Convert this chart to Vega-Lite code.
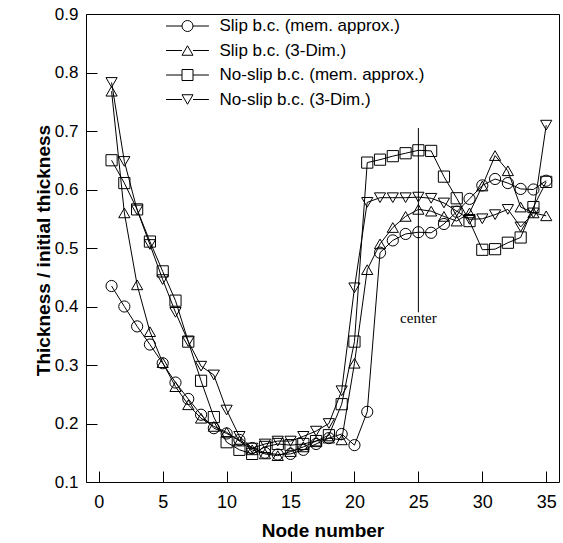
{
  "$schema": "https://vega.github.io/schema/vega-lite/v6.json",
  "width": 473,
  "height": 468,
  "autosize": {"type": "none"},
  "padding": {"left": 86, "top": 14, "right": 4, "bottom": 61},
  "background": "white",
  "config": {
    "view": {"stroke": "black", "strokeWidth": 1},
    "font": "Liberation Sans",
    "axis": {"domain": false, "grid": false, "labelColor": "black", "tickColor": "black", "titleColor": "black", "labelFont": "Liberation Sans", "titleFont": "Liberation Sans", "labelFontSize": 18, "titleFontSize": 19, "titleFontWeight": "bold", "tickSize": -11, "tickWidth": 1, "labelOverlap": false}
  },
  "datasets": {
    "main": [
      {"node": 1, "series": "Slip b.c. (mem. approx.)", "curve": "Slip b.c. (mem. approx.)", "value": 0.435},
      {"node": 2, "series": "Slip b.c. (mem. approx.)", "curve": "Slip b.c. (mem. approx.)", "value": 0.400},
      {"node": 3, "series": "Slip b.c. (mem. approx.)", "curve": "Slip b.c. (mem. approx.)", "value": 0.366},
      {"node": 4, "series": "Slip b.c. (mem. approx.)", "curve": "Slip b.c. (mem. approx.)", "value": 0.335},
      {"node": 5, "series": "Slip b.c. (mem. approx.)", "curve": "Slip b.c. (mem. approx.)", "value": 0.303},
      {"node": 6, "series": "Slip b.c. (mem. approx.)", "curve": "Slip b.c. (mem. approx.)", "value": 0.270},
      {"node": 7, "series": "Slip b.c. (mem. approx.)", "curve": "Slip b.c. (mem. approx.)", "value": 0.242},
      {"node": 8, "series": "Slip b.c. (mem. approx.)", "curve": "Slip b.c. (mem. approx.)", "value": 0.215},
      {"node": 9, "series": "Slip b.c. (mem. approx.)", "curve": "Slip b.c. (mem. approx.)", "value": 0.192},
      {"node": 10, "series": "Slip b.c. (mem. approx.)", "curve": "Slip b.c. (mem. approx.)", "value": 0.183},
      {"node": 11, "series": "Slip b.c. (mem. approx.)", "curve": "Slip b.c. (mem. approx.)", "value": 0.172},
      {"node": 12, "series": "Slip b.c. (mem. approx.)", "curve": "Slip b.c. (mem. approx.)", "value": 0.158},
      {"node": 13, "series": "Slip b.c. (mem. approx.)", "curve": "Slip b.c. (mem. approx.)", "value": 0.150},
      {"node": 14, "series": "Slip b.c. (mem. approx.)", "curve": "Slip b.c. (mem. approx.)", "value": 0.147},
      {"node": 15, "series": "Slip b.c. (mem. approx.)", "curve": "Slip b.c. (mem. approx.)", "value": 0.148},
      {"node": 16, "series": "Slip b.c. (mem. approx.)", "curve": "Slip b.c. (mem. approx.)", "value": 0.155},
      {"node": 17, "series": "Slip b.c. (mem. approx.)", "curve": "Slip b.c. (mem. approx.)", "value": 0.165},
      {"node": 18, "series": "Slip b.c. (mem. approx.)", "curve": "Slip b.c. (mem. approx.)", "value": 0.175},
      {"node": 19, "series": "Slip b.c. (mem. approx.)", "curve": "Slip b.c. (mem. approx.)", "value": 0.182},
      {"node": 20, "series": "Slip b.c. (mem. approx.)", "curve": "Slip b.c. (mem. approx.)", "value": 0.163},
      {"node": 21, "series": "Slip b.c. (mem. approx.)", "curve": "Slip b.c. (mem. approx.)", "value": 0.220},
      {"node": 22, "series": "Slip b.c. (mem. approx.)", "curve": "Slip b.c. (mem. approx.)", "value": 0.492},
      {"node": 23, "series": "Slip b.c. (mem. approx.)", "curve": "Slip b.c. (mem. approx.)", "value": 0.513},
      {"node": 24, "series": "Slip b.c. (mem. approx.)", "curve": "Slip b.c. (mem. approx.)", "value": 0.524},
      {"node": 25, "series": "Slip b.c. (mem. approx.)", "curve": "Slip b.c. (mem. approx.)", "value": 0.527},
      {"node": 26, "series": "Slip b.c. (mem. approx.)", "curve": "Slip b.c. (mem. approx.)", "value": 0.526},
      {"node": 27, "series": "Slip b.c. (mem. approx.)", "curve": "Slip b.c. (mem. approx.)", "value": 0.541},
      {"node": 28, "series": "Slip b.c. (mem. approx.)", "curve": "Slip b.c. (mem. approx.)", "value": 0.562},
      {"node": 29, "series": "Slip b.c. (mem. approx.)", "curve": "Slip b.c. (mem. approx.)", "value": 0.584},
      {"node": 30, "series": "Slip b.c. (mem. approx.)", "curve": "Slip b.c. (mem. approx.)", "value": 0.607},
      {"node": 31, "series": "Slip b.c. (mem. approx.)", "curve": "Slip b.c. (mem. approx.)", "value": 0.618},
      {"node": 32, "series": "Slip b.c. (mem. approx.)", "curve": "Slip b.c. (mem. approx.)", "value": 0.611},
      {"node": 33, "series": "Slip b.c. (mem. approx.)", "curve": "Slip b.c. (mem. approx.)", "value": 0.601},
      {"node": 34, "series": "Slip b.c. (mem. approx.)", "curve": "Slip b.c. (mem. approx.)", "value": 0.600},
      {"node": 35, "series": "Slip b.c. (mem. approx.)", "curve": "Slip b.c. (mem. approx.)", "value": 0.615},
      {"node": 1, "series": "Slip b.c. (3-Dim.)", "curve": "Slip b.c. (3-Dim.)", "value": 0.768},
      {"node": 2, "series": "Slip b.c. (3-Dim.)", "curve": "Slip b.c. (3-Dim.)", "value": 0.560},
      {"node": 3, "series": "Slip b.c. (3-Dim.)", "curve": "Slip b.c. (3-Dim.)", "value": 0.437},
      {"node": 4, "series": "Slip b.c. (3-Dim.)", "curve": "Slip b.c. (3-Dim.)", "value": 0.357},
      {"node": 5, "series": "Slip b.c. (3-Dim.)", "curve": "Slip b.c. (3-Dim.)", "value": 0.304},
      {"node": 6, "series": "Slip b.c. (3-Dim.)", "curve": "Slip b.c. (3-Dim.)", "value": 0.263},
      {"node": 7, "series": "Slip b.c. (3-Dim.)", "curve": "Slip b.c. (3-Dim.)", "value": 0.232},
      {"node": 8, "series": "Slip b.c. (3-Dim.)", "curve": "Slip b.c. (3-Dim.)", "value": 0.209},
      {"node": 9, "series": "Slip b.c. (3-Dim.)", "curve": "Slip b.c. (3-Dim.)", "value": 0.195},
      {"node": 10, "series": "Slip b.c. (3-Dim.)", "curve": "Slip b.c. (3-Dim.)", "value": 0.185},
      {"node": 11, "series": "Slip b.c. (3-Dim.)", "curve": "Slip b.c. (3-Dim.)", "value": 0.170},
      {"node": 12, "series": "Slip b.c. (3-Dim.)", "curve": "Slip b.c. (3-Dim.)", "value": 0.155},
      {"node": 13, "series": "Slip b.c. (3-Dim.)", "curve": "Slip b.c. (3-Dim.)", "value": 0.148},
      {"node": 14, "series": "Slip b.c. (3-Dim.)", "curve": "Slip b.c. (3-Dim.)", "value": 0.145},
      {"node": 15, "series": "Slip b.c. (3-Dim.)", "curve": "Slip b.c. (3-Dim.)", "value": 0.152},
      {"node": 16, "series": "Slip b.c. (3-Dim.)", "curve": "Slip b.c. (3-Dim.)", "value": 0.160},
      {"node": 17, "series": "Slip b.c. (3-Dim.)", "curve": "Slip b.c. (3-Dim.)", "value": 0.170},
      {"node": 18, "series": "Slip b.c. (3-Dim.)", "curve": "Slip b.c. (3-Dim.)", "value": 0.175},
      {"node": 19, "series": "Slip b.c. (3-Dim.)", "curve": "Slip b.c. (3-Dim.)", "value": 0.172},
      {"node": 20, "series": "Slip b.c. (3-Dim.)", "curve": "Slip b.c. (3-Dim.)", "value": 0.303},
      {"node": 21, "series": "Slip b.c. (3-Dim.)", "curve": "Slip b.c. (3-Dim.)", "value": 0.463},
      {"node": 22, "series": "Slip b.c. (3-Dim.)", "curve": "Slip b.c. (3-Dim.)", "value": 0.507},
      {"node": 23, "series": "Slip b.c. (3-Dim.)", "curve": "Slip b.c. (3-Dim.)", "value": 0.535},
      {"node": 24, "series": "Slip b.c. (3-Dim.)", "curve": "Slip b.c. (3-Dim.)", "value": 0.554},
      {"node": 25, "series": "Slip b.c. (3-Dim.)", "curve": "Slip b.c. (3-Dim.)", "value": 0.566},
      {"node": 26, "series": "Slip b.c. (3-Dim.)", "curve": "Slip b.c. (3-Dim.)", "value": 0.563},
      {"node": 27, "series": "Slip b.c. (3-Dim.)", "curve": "Slip b.c. (3-Dim.)", "value": 0.554},
      {"node": 28, "series": "Slip b.c. (3-Dim.)", "curve": "Slip b.c. (3-Dim.)", "value": 0.546},
      {"node": 29, "series": "Slip b.c. (3-Dim.)", "curve": "Slip b.c. (3-Dim.)", "value": 0.560},
      {"node": 30, "series": "Slip b.c. (3-Dim.)", "curve": "Slip b.c. (3-Dim.)", "value": 0.606},
      {"node": 31, "series": "Slip b.c. (3-Dim.)", "curve": "Slip b.c. (3-Dim.)", "value": 0.658},
      {"node": 32, "series": "Slip b.c. (3-Dim.)", "curve": "Slip b.c. (3-Dim.)", "value": 0.632},
      {"node": 33, "series": "Slip b.c. (3-Dim.)", "curve": "Slip b.c. (3-Dim.)", "value": 0.570},
      {"node": 34, "series": "Slip b.c. (3-Dim.)", "curve": "Slip b.c. (3-Dim.)", "value": 0.560},
      {"node": 35, "series": "Slip b.c. (3-Dim.)", "curve": "Slip b.c. (3-Dim.)", "value": 0.555},
      {"node": 1, "series": "No-slip b.c. (mem. approx.)", "curve": "No-slip b.c. (mem. approx.)", "value": 0.650},
      {"node": 2, "series": "No-slip b.c. (mem. approx.)", "curve": "No-slip b.c. (mem. approx.)", "value": 0.611},
      {"node": 3, "series": "No-slip b.c. (mem. approx.)", "curve": "No-slip b.c. (mem. approx.)", "value": 0.566},
      {"node": 4, "series": "No-slip b.c. (mem. approx.)", "curve": "No-slip b.c. (mem. approx.)", "value": 0.511},
      {"node": 5, "series": "No-slip b.c. (mem. approx.)", "curve": "No-slip b.c. (mem. approx.)", "value": 0.460},
      {"node": 6, "series": "No-slip b.c. (mem. approx.)", "curve": "No-slip b.c. (mem. approx.)", "value": 0.410},
      {"node": 7, "series": "No-slip b.c. (mem. approx.)", "curve": "No-slip b.c. (mem. approx.)", "value": 0.340},
      {"node": 8, "series": "No-slip b.c. (mem. approx.)", "curve": "No-slip b.c. (mem. approx.)", "value": 0.273},
      {"node": 9, "series": "No-slip b.c. (mem. approx.)", "curve": "No-slip b.c. (mem. approx.)", "value": 0.211},
      {"node": 10, "series": "No-slip b.c. (mem. approx.)", "curve": "No-slip b.c. (mem. approx.)", "value": 0.168},
      {"node": 11, "series": "No-slip b.c. (mem. approx.)", "curve": "No-slip b.c. (mem. approx.)", "value": 0.155},
      {"node": 12, "series": "No-slip b.c. (mem. approx.)", "curve": "No-slip b.c. (mem. approx.)", "value": 0.148},
      {"node": 13, "series": "No-slip b.c. (mem. approx.)", "curve": "No-slip b.c. (mem. approx.)", "value": 0.160},
      {"node": 14, "series": "No-slip b.c. (mem. approx.)", "curve": "No-slip b.c. (mem. approx.)", "value": 0.165},
      {"node": 15, "series": "No-slip b.c. (mem. approx.)", "curve": "No-slip b.c. (mem. approx.)", "value": 0.163},
      {"node": 16, "series": "No-slip b.c. (mem. approx.)", "curve": "No-slip b.c. (mem. approx.)", "value": 0.165},
      {"node": 17, "series": "No-slip b.c. (mem. approx.)", "curve": "No-slip b.c. (mem. approx.)", "value": 0.170},
      {"node": 18, "series": "No-slip b.c. (mem. approx.)", "curve": "No-slip b.c. (mem. approx.)", "value": 0.180},
      {"node": 19, "series": "No-slip b.c. (mem. approx.)", "curve": "No-slip b.c. (mem. approx.)", "value": 0.233},
      {"node": 20, "series": "No-slip b.c. (mem. approx.)", "curve": "No-slip b.c. (mem. approx.)", "value": 0.340},
      {"node": 21, "series": "No-slip b.c. (mem. approx.)", "curve": "No-slip b.c. (mem. approx.)", "value": 0.646},
      {"node": 22, "series": "No-slip b.c. (mem. approx.)", "curve": "No-slip b.c. (mem. approx.)", "value": 0.651},
      {"node": 23, "series": "No-slip b.c. (mem. approx.)", "curve": "No-slip b.c. (mem. approx.)", "value": 0.657},
      {"node": 24, "series": "No-slip b.c. (mem. approx.)", "curve": "No-slip b.c. (mem. approx.)", "value": 0.662},
      {"node": 25, "series": "No-slip b.c. (mem. approx.)", "curve": "No-slip b.c. (mem. approx.)", "value": 0.667},
      {"node": 26, "series": "No-slip b.c. (mem. approx.)", "curve": "No-slip b.c. (mem. approx.)", "value": 0.666},
      {"node": 27, "series": "No-slip b.c. (mem. approx.)", "curve": "No-slip b.c. (mem. approx.)", "value": 0.622},
      {"node": 28, "series": "No-slip b.c. (mem. approx.)", "curve": "No-slip b.c. (mem. approx.)", "value": 0.585},
      {"node": 29, "series": "No-slip b.c. (mem. approx.)", "curve": "No-slip b.c. (mem. approx.)", "value": 0.546},
      {"node": 30, "series": "No-slip b.c. (mem. approx.)", "curve": "No-slip b.c. (mem. approx.)", "value": 0.497},
      {"node": 31, "series": "No-slip b.c. (mem. approx.)", "curve": "No-slip b.c. (mem. approx.)", "value": 0.498},
      {"node": 32, "series": "No-slip b.c. (mem. approx.)", "curve": "No-slip b.c. (mem. approx.)", "value": 0.509},
      {"node": 33, "series": "No-slip b.c. (mem. approx.)", "curve": "No-slip b.c. (mem. approx.)", "value": 0.518},
      {"node": 34, "series": "No-slip b.c. (mem. approx.)", "curve": "No-slip b.c. (mem. approx.)", "value": 0.570},
      {"node": 35, "series": "No-slip b.c. (mem. approx.)", "curve": "No-slip b.c. (mem. approx.)", "value": 0.613},
      {"node": 1, "series": "No-slip b.c. (3-Dim.)", "curve": "No-slip b.c. (3-Dim.)", "value": 0.783},
      {"node": 2, "series": "No-slip b.c. (3-Dim.)", "curve": "No-slip b.c. (3-Dim.)", "value": 0.648},
      {"node": 3, "series": "No-slip b.c. (3-Dim.)", "curve": "No-slip b.c. (3-Dim.)", "value": 0.565},
      {"node": 4, "series": "No-slip b.c. (3-Dim.)", "curve": "No-slip b.c. (3-Dim.)", "value": 0.506},
      {"node": 5, "series": "No-slip b.c. (3-Dim.)", "curve": "No-slip b.c. (3-Dim.)", "value": 0.446},
      {"node": 6, "series": "No-slip b.c. (3-Dim.)", "curve": "No-slip b.c. (3-Dim.)", "value": 0.390},
      {"node": 7, "series": "No-slip b.c. (3-Dim.)", "curve": "No-slip b.c. (3-Dim.)", "value": 0.340},
      {"node": 8, "series": "No-slip b.c. (3-Dim.)", "curve": "No-slip b.c. (3-Dim.)", "value": 0.298},
      {"node": 9, "series": "No-slip b.c. (3-Dim.)", "curve": "No-slip b.c. (3-Dim.)", "value": 0.283},
      {"node": 10, "series": "No-slip b.c. (3-Dim.)", "curve": "No-slip b.c. (3-Dim.)", "value": 0.223},
      {"node": 11, "series": "No-slip b.c. (3-Dim.)", "curve": "No-slip b.c. (3-Dim.)", "value": 0.178},
      {"node": 12, "series": "No-slip b.c. (3-Dim.)", "curve": "No-slip b.c. (3-Dim.)", "value": 0.158},
      {"node": 13, "series": "No-slip b.c. (3-Dim.)", "curve": "No-slip b.c. (3-Dim.)", "value": 0.165},
      {"node": 14, "series": "No-slip b.c. (3-Dim.)", "curve": "No-slip b.c. (3-Dim.)", "value": 0.170},
      {"node": 15, "series": "No-slip b.c. (3-Dim.)", "curve": "No-slip b.c. (3-Dim.)", "value": 0.170},
      {"node": 16, "series": "No-slip b.c. (3-Dim.)", "curve": "No-slip b.c. (3-Dim.)", "value": 0.178},
      {"node": 17, "series": "No-slip b.c. (3-Dim.)", "curve": "No-slip b.c. (3-Dim.)", "value": 0.187},
      {"node": 18, "series": "No-slip b.c. (3-Dim.)", "curve": "No-slip b.c. (3-Dim.)", "value": 0.200},
      {"node": 19, "series": "No-slip b.c. (3-Dim.)", "curve": "No-slip b.c. (3-Dim.)", "value": 0.256},
      {"node": 20, "series": "No-slip b.c. (3-Dim.)", "curve": "No-slip b.c. (3-Dim.)", "value": 0.432},
      {"node": 21, "series": "No-slip b.c. (3-Dim.)", "curve": "No-slip b.c. (3-Dim.)", "value": 0.578},
      {"node": 22, "series": "No-slip b.c. (3-Dim.)", "curve": "No-slip b.c. (3-Dim.)", "value": 0.586},
      {"node": 23, "series": "No-slip b.c. (3-Dim.)", "curve": "No-slip b.c. (3-Dim.)", "value": 0.586},
      {"node": 24, "series": "No-slip b.c. (3-Dim.)", "curve": "No-slip b.c. (3-Dim.)", "value": 0.586},
      {"node": 25, "series": "No-slip b.c. (3-Dim.)", "curve": "No-slip b.c. (3-Dim.)", "value": 0.587},
      {"node": 26, "series": "No-slip b.c. (3-Dim.)", "curve": "No-slip b.c. (3-Dim.)", "value": 0.585},
      {"node": 27, "series": "No-slip b.c. (3-Dim.)", "curve": "No-slip b.c. (3-Dim.)", "value": 0.577},
      {"node": 28, "series": "No-slip b.c. (3-Dim.)", "curve": "No-slip b.c. (3-Dim.)", "value": 0.563},
      {"node": 29, "series": "No-slip b.c. (3-Dim.)", "curve": "No-slip b.c. (3-Dim.)", "value": 0.549},
      {"node": 30, "series": "No-slip b.c. (3-Dim.)", "curve": "No-slip b.c. (3-Dim.)", "value": 0.550},
      {"node": 31, "series": "No-slip b.c. (3-Dim.)", "curve": "No-slip b.c. (3-Dim.)", "value": 0.557},
      {"node": 32, "series": "No-slip b.c. (3-Dim.)", "curve": "No-slip b.c. (3-Dim.)", "value": 0.566},
      {"node": 33, "series": "No-slip b.c. (3-Dim.)", "curve": "No-slip b.c. (3-Dim.)", "value": 0.536},
      {"node": 34, "series": "No-slip b.c. (3-Dim.)", "curve": "No-slip b.c. (3-Dim.)", "value": 0.560},
      {"node": 35, "series": "No-slip b.c. (3-Dim.)", "curve": "No-slip b.c. (3-Dim.)", "value": 0.710}
    ],
    "ann": [{"node": 25, "top": 0.705, "bottom": 0.39, "ty": 0.381, "label": "center"}]
  },
  "layer": [
    {
      "data": {"name": "main"},
      "mark": {"type": "line", "strokeWidth": 1},
      "encoding": {
        "x": {"field": "node", "type": "quantitative", "scale": {"domain": [-1, 36], "nice": false, "zero": false},
          "axis": {"values": [0, 5, 10, 15, 20, 25, 30, 35], "format": "d", "title": "Node number", "labelPadding": 22, "titleBaseline": "alphabetic", "titleY": 54}},
        "y": {"field": "value", "type": "quantitative", "scale": {"domain": [0.1, 0.9], "nice": false, "zero": false},
          "axis": {"values": [0.1, 0.2, 0.3, 0.4, 0.5, 0.6, 0.7, 0.8, 0.9], "format": ".1f", "title": "Thickness / initial thickness", "labelPadding": 19, "labelFontSize": 17, "titleBaseline": "alphabetic", "titleX": -37, "titleY": 236}},
        "color": {"field": "curve", "type": "nominal",
          "sort": ["Slip b.c. (mem. approx.)", "Slip b.c. (3-Dim.)", "No-slip b.c. (mem. approx.)", "No-slip b.c. (3-Dim.)"],
          "scale": {"range": ["black", "black", "black", "black"]},
          "legend": {"orient": "none", "legendX": 93, "legendY": 3.5, "title": null, "labelFontSize": 17, "labelFont": "Liberation Sans", "labelExpr": "''", "labelLimit": 400, "symbolType": "M-3.9,0L-1,0M1,0L3.9,0", "symbolSize": 121, "symbolStrokeWidth": 1, "symbolStrokeColor": "black", "symbolFillColor": "transparent", "labelOffset": 23.5, "rowPadding": 6.5, "padding": 0, "direction": "vertical"}}
      }
    },
    {
      "data": {"name": "main"},
      "mark": {"type": "point", "filled": false, "stroke": "black", "strokeWidth": 1, "size": 125, "opacity": 1},
      "encoding": {
        "x": {"field": "node", "type": "quantitative"},
        "y": {"field": "value", "type": "quantitative"},
        "shape": {"field": "series", "type": "nominal",
          "scale": {"domain": ["Slip b.c. (mem. approx.)", "Slip b.c. (3-Dim.)", "No-slip b.c. (mem. approx.)", "No-slip b.c. (3-Dim.)"], "range": ["circle", "triangle-up", "square", "triangle-down"]},
          "legend": {"orient": "none", "legendX": 93, "legendY": 3.5, "title": null, "labelFontSize": 17, "labelFont": "Liberation Sans", "labelColor": "black", "labelLimit": 400, "symbolSize": 121, "symbolStrokeWidth": 1, "symbolStrokeColor": "black", "symbolFillColor": "white", "labelOffset": 23.5, "rowPadding": 6.5, "padding": 0, "direction": "vertical"}}
      }
    },
    {
      "data": {"name": "ann"},
      "mark": {"type": "rule", "stroke": "black", "strokeWidth": 1},
      "encoding": {
        "x": {"field": "node", "type": "quantitative"},
        "y": {"field": "bottom", "type": "quantitative"},
        "y2": {"field": "top"}
      }
    },
    {
      "data": {"name": "ann"},
      "mark": {"type": "text", "font": "Liberation Serif", "fontSize": 15, "baseline": "middle", "align": "center", "color": "black"},
      "encoding": {
        "x": {"field": "node", "type": "quantitative"},
        "y": {"field": "ty", "type": "quantitative"},
        "text": {"field": "label"}
      }
    }
  ]
}
